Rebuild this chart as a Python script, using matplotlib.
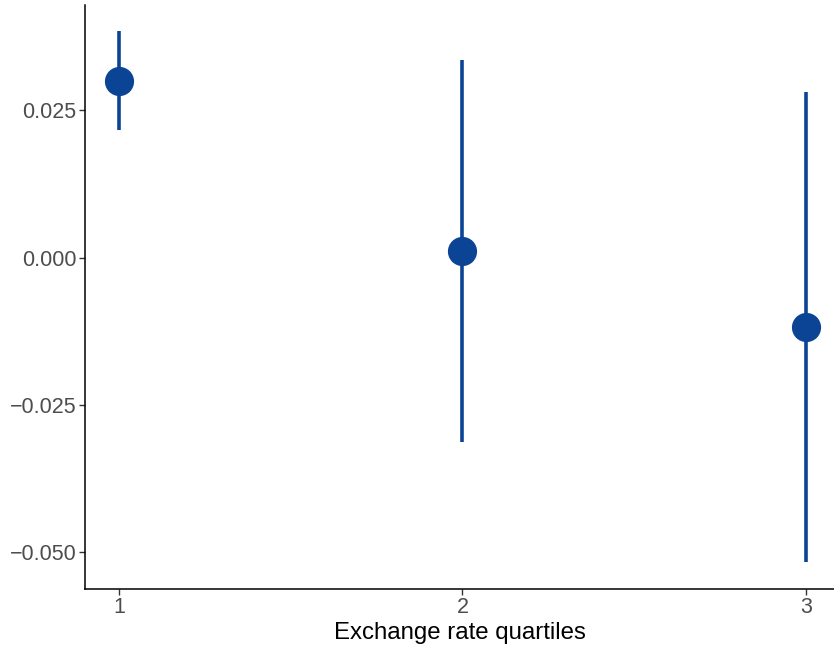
import matplotlib.pyplot as plt

plt.rcParams['font.family'] = ['Liberation Sans', 'DejaVu Sans']

quartiles = [1, 2, 3]
estimate = [0.0300, 0.0012, -0.0117]
ci_low = [0.0217, -0.0312, -0.0516]
ci_high = [0.0385, 0.0336, 0.0282]

col = '#0B4495'

fig = plt.figure(figsize=(8.34, 6.47), dpi=100)
ax = fig.add_axes([85 / 834, 58 / 647, 749 / 834, 584 / 647])

ax.vlines(quartiles, ci_low, ci_high, color=col, linewidth=2.6)
ax.plot(quartiles, estimate, 'o', color=col, markersize=20)

ax.set_xlim(0.901, 3.082)
ax.set_ylim(-0.0562, 0.0429)
ax.set_xticks(quartiles)
ax.set_xticklabels(['1', '2', '3'])
ax.set_yticks([-0.05, -0.025, 0.0, 0.025])
ax.set_yticklabels(['\u22120.050', '\u22120.025', '0.000', '0.025'])

for s in ['top', 'right']:
    ax.spines[s].set_visible(False)
for s in ['left', 'bottom']:
    ax.spines[s].set_linewidth(1.1)
    ax.spines[s].set_color('black')

ax.tick_params(colors='#333333', labelcolor='#4D4D4D', labelsize=15.5,
               length=4, width=1.0, pad=2)
ax.set_xlabel('Exchange rate quartiles', fontsize=17.3, color='black', labelpad=3)

fig.savefig('out.png', dpi=100)
